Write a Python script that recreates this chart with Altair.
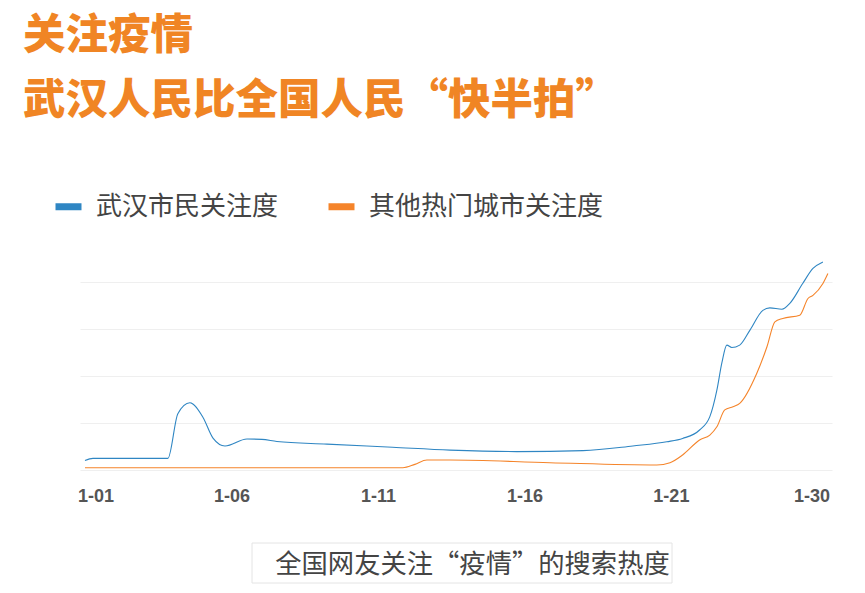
import altair as alt
import pandas as pd

# ---- data ----
# day position (0 = 1-01, 1 unit = 1 tick step of one day) and search heat
t_wuhan = [0.0, 0.27, 2.83, 3.17, 3.58, 4.03, 4.37, 4.78, 5.53, 6.04, 6.55, 8.26,
           10.5, 12.46, 14.74, 17.0, 18.7, 19.86, 20.4, 20.98, 21.33, 21.57, 21.74,
           21.91, 22.08, 22.35, 22.7, 23.14, 23.38, 23.79, 24.06, 24.5, 24.85, 25.19]
v_wuhan = [5.0, 6.2, 6.2, 30.0, 35.8, 28.0, 17.0, 12.8, 16.5, 16.3, 15.2, 13.8,
           12.1, 10.6, 9.8, 10.3, 12.8, 15.0, 16.8, 21.3, 28.4, 42.5, 57.0,
           66.5, 65.2, 66.5, 74.5, 85.0, 86.3, 85.6, 88.7, 99.3, 107.3, 110.8]

t_other = [0.0, 10.85, 11.26, 11.67, 12.46, 15.87, 19.52, 19.97, 20.4, 20.98, 21.33,
           21.57, 21.84, 22.12, 22.35, 22.93, 23.28, 23.55, 23.82, 24.4, 24.68, 24.85,
           25.19, 25.36]
v_other = [1.2, 1.2, 3.0, 5.3, 5.3, 3.9, 2.7, 3.9, 8.0, 16.0, 18.6,
           23.0, 32.0, 33.7, 35.5, 51.4, 65.6, 78.9, 80.7, 82.4, 91.3, 93.0,
           99.3, 104.6]

series = ["武汉市民关注度", "其他热门城市关注度"]
colors = ["#2f86c3", "#f5842a"]

tick_values = [0.36, 5, 10, 15, 20, 24.8]
tick_labels = ["1-01", "1-06", "1-11", "1-16", "1-21", "1-30"]
grid_values = [0, 25, 50, 75, 100]

title_line1 = "关注疫情"
title_line2 = "武汉人民比全国人民“快半拍”"
caption = "全国网友关注“疫情”的搜索热度"

df = pd.concat([
    pd.DataFrame({"t": t_wuhan, "v": v_wuhan, "s": series[0], "o": 0}),
    pd.DataFrame({"t": t_other, "v": v_other, "s": series[1], "o": 1}),
], ignore_index=True)

label_map = "{" + ",".join(f"'{v}':'{l}'" for v, l in zip(tick_values, tick_labels)) + "}"

CJK = "Noto Sans CJK SC"
ORANGE_TITLE = "#f08524"

box = alt.Chart(pd.DataFrame({"a": [0]})).mark_rect(
    fill="white", stroke="#e4e4e4", strokeWidth=1
).encode(
    x=alt.value(172), x2=alt.value(592), y=alt.value(289), y2=alt.value(329)
)

lines = alt.Chart(df).mark_line(interpolate="monotone", strokeWidth=1.1).encode(
    x=alt.X("t:Q",
            scale=alt.Scale(domain=[-0.17, 25.5], nice=False, zero=False),
            axis=alt.Axis(values=tick_values, labelExpr=f"{label_map}[datum.value]",
                          grid=False, domain=False, ticks=False, zindex=1,
                          labelFont="Liberation Sans", labelFontSize=18,
                          labelFontWeight="bold", labelColor="#555555",
                          labelBaseline="top", labelPadding=17, labelAlign="center",
                          labelOverlap=False,
                          title=caption, titleFont=CJK, titleFontSize=26.3,
                          titleFontWeight="normal", titleColor="#444444",
                          titleX=392, titleY=94, titleAlign="center",
                          titleBaseline="middle")),
    y=alt.Y("v:Q",
            scale=alt.Scale(domain=[0, 115], nice=False),
            axis=alt.Axis(values=grid_values, grid=True, gridColor="#efefef",
                          gridWidth=1, labels=False, ticks=False, domain=False,
                          title=None)),
    color=alt.Color("s:N", scale=alt.Scale(domain=series, range=colors),
                    legend=alt.Legend(orient="none", legendX=-28, legendY=-64,
                                      direction="horizontal", title=None,
                                      symbolType="stroke", symbolStrokeWidth=7,
                                      symbolSize=676, labelFont=CJK,
                                      labelFontSize=26, labelColor="#444444",
                                      labelOffset=11, columnPadding=35,
                                      labelLimit=400, padding=0)),
    order="o:Q",
)

chart = alt.layer(box, lines).properties(
    width=752, height=216,
    background="white",
    autosize=alt.AutoSizeParams(type="none"),
    padding={"left": 72, "top": 246, "right": 25, "bottom": 118},
    title=alt.TitleParams(text=title_line1, subtitle=title_line2,
                          anchor="start", frame="group",
                          orient="top", baseline="top", offset=68, dx=-57,
                          font=CJK, fontSize=42.5, fontWeight=900,
                          color=ORANGE_TITLE,
                          subtitleFont=CJK, subtitleFontSize=42.5,
                          subtitleFontWeight=900, subtitleColor=ORANGE_TITLE,
                          subtitlePadding=22),
).configure_view(stroke=None)

chart.save("out.html", embed_options={"renderer": "svg", "actions": False})
